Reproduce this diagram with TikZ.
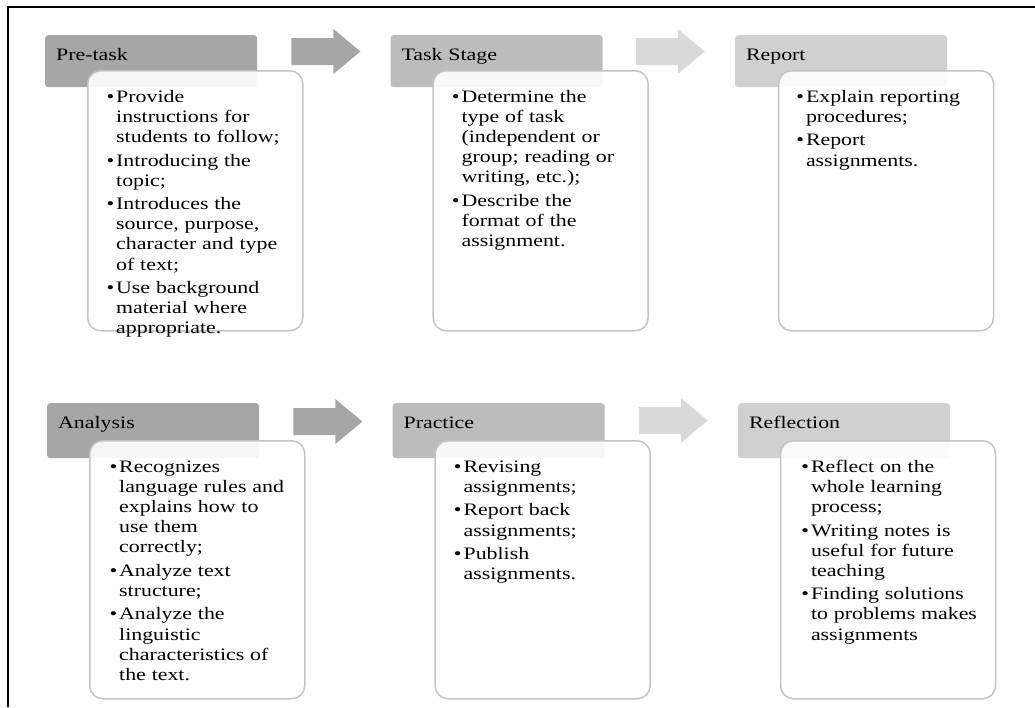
\documentclass[tikz,border=0pt]{standalone}
\usepackage{fontspec}
\setmainfont[FakeStretch=1.25]{Liberation Serif}
\usetikzlibrary{positioning}
\usetikzlibrary{calc}

\definecolor{headDark}{HTML}{A6A6A6}
\definecolor{headMid}{HTML}{BCBCBC}
\definecolor{headLight}{HTML}{D0D0D0}
\definecolor{arrowDark}{HTML}{A5A5A5}
\definecolor{arrowLight}{HTML}{D9D9D9}
\definecolor{boxLine}{HTML}{C4C4C4}

% hanging bullet in front of each point
\newcommand{\stepbullet}{\leavevmode\llap{\textbullet\hspace{2pt}}}
\newcommand{\firstline}{\leavevmode\rule{0pt}{13pt}}

\begin{document}
\begin{tikzpicture}[ x                 = 1pt
                   , y                 = -1pt
                   , font              = \fontsize{17.5}{20.1}\selectfont
                   , every node/.style = { align      = left
                                         , inner ysep = 0pt
                                         }
                   ]

  \useasboundingbox (0,0) rectangle (1035,707);

  %%
  %% Node types
  %%
  \tikzset{ head/.style={ rectangle
                        , rounded corners = 3pt
                        , anchor          = north west
                        , inner xsep      = 11pt
                        , text width      = 190pt
                        , text height     = 25pt
                        , text depth      = 27pt
                        }
          , headlow/.style={head, text depth=30pt}
          , box/.style={ rectangle
                       , rounded corners = 13pt
                       , draw            = boxLine
                       , line width      = 1.5pt
                       , fill            = white
                       , fill opacity    = 0.9
                       , minimum width   = 215pt
                       , minimum height  = 260pt
                       }
          , boxlow/.style={box, minimum height=258pt}
          , body/.style={text width=180pt, inner xsep=0pt}
          }

  %%
  %% Arrow types
  %%
  \tikzset{ darkarrow/.style={fill=arrowDark}
          , lightarrow/.style={fill=arrowLight}
          }

  %% frame
  \draw[line width=2pt] (1035,6.7) -- (8,6.7) -- (8,707);

  %%
  %% Headers
  %%
  \node (preHead)    [head, fill=headDark ] at (45,35) {Pre-task};
  \node (taskHead)   [head, fill=headMid  , right = 133pt of preHead.north east, anchor=north west] {Task Stage};
  \node (reportHead) [head, fill=headLight, right = 132pt of taskHead.north east, anchor=north west] {Report};

  \node (analysisHead)   [headlow, fill=headDark ] at (47,403) {Analysis};
  \node (practiceHead)   [headlow, fill=headMid  , right = 133pt of analysisHead.north east, anchor=north west] {Practice};
  \node (reflectionHead) [headlow, fill=headLight, right = 133pt of practiceHead.north east, anchor=north west] {Reflection};

  %%
  %% Boxes
  %%
  \node (preBox)    [box, below right = 35pt and 42pt of preHead.north west] {};
  \node (taskBox)   [box, below right = 35pt and 42pt of taskHead.north west] {};
  \node (reportBox) [box, below right = 35pt and 43pt of reportHead.north west] {};

  \node (analysisBox)   [boxlow, below right = 37pt and 42pt of analysisHead.north west] {};
  \node (practiceBox)   [boxlow, below right = 37pt and 42pt of practiceHead.north west] {};
  \node (reflectionBox) [boxlow, below right = 37pt and 42pt of reflectionHead.north west] {};

  %%
  %% Box texts
  %%
  \node (preBody) [body, below right = 19pt and 29pt of preBox.north west]
    {\firstline\stepbullet Provide\\instructions for\\students to follow;\\[3.5pt]%
     \stepbullet Introducing the\\topic;\\[3.5pt]%
     \stepbullet Introduces the\\source, purpose,\\character and type\\of text;\\[3.5pt]%
     \stepbullet Use background\\material where\\appropriate.};
  \node (taskBody) [body, below right = 19pt and 29pt of taskBox.north west]
    {\firstline\stepbullet Determine the\\type of task\\(independent or\\group; reading or\\writing, etc.);\\[3.5pt]%
     \stepbullet Describe the\\format of the\\assignment.};
  \node (reportBody) [body, below right = 19pt and 28pt of reportBox.north west]
    {\firstline\stepbullet Explain reporting\\procedures;\\[3.5pt]%
     \stepbullet Report\\assignments.};

  \node (analysisBody) [body, below right = 19pt and 30pt of analysisBox.north west]
    {\firstline\stepbullet Recognizes\\language rules and\\explains how to\\use them\\correctly;\\[3.5pt]%
     \stepbullet Analyze text\\structure;\\[3.5pt]%
     \stepbullet Analyze the\\linguistic\\characteristics of\\the text.};
  \node (practiceBody) [body, below right = 19pt and 29pt of practiceBox.north west]
    {\firstline\stepbullet Revising\\assignments;\\[3.5pt]%
     \stepbullet Report back\\assignments;\\[3.5pt]%
     \stepbullet Publish\\assignments.};
  \node (reflectionBody) [body, below right = 19pt and 31pt of reflectionBox.north west]
    {\firstline\stepbullet Reflect on the\\whole learning\\process;\\[3.5pt]%
     \stepbullet Writing notes is\\useful for future\\teaching\\[3.5pt]%
     \stepbullet Finding solutions\\to problems makes\\assignments};

  %%
  %% Block arrows between the stages
  %%
  \fill[darkarrow] ($(preHead.north east)+(34,3)$)
    -- ++(42,0) -- ++(0,-9) -- ++(27,22.5) -- ++(-27,22.5) -- ++(0,-9) -- ++(-42,0) -- cycle;
  \fill[lightarrow] ($(taskHead.north east)+(33,3)$)
    -- ++(42,0) -- ++(0,-9) -- ++(27,22.5) -- ++(-27,22.5) -- ++(0,-9) -- ++(-42,0) -- cycle;
  \fill[darkarrow] ($(analysisHead.north east)+(34,5)$)
    -- ++(42,0) -- ++(0,-9) -- ++(27,22.5) -- ++(-27,22.5) -- ++(0,-9) -- ++(-42,0) -- cycle;
  \fill[lightarrow] ($(practiceHead.north east)+(34,4)$)
    -- ++(42,0) -- ++(0,-9) -- ++(27,22.5) -- ++(-27,22.5) -- ++(0,-9) -- ++(-42,0) -- cycle;

\end{tikzpicture}
\end{document}
